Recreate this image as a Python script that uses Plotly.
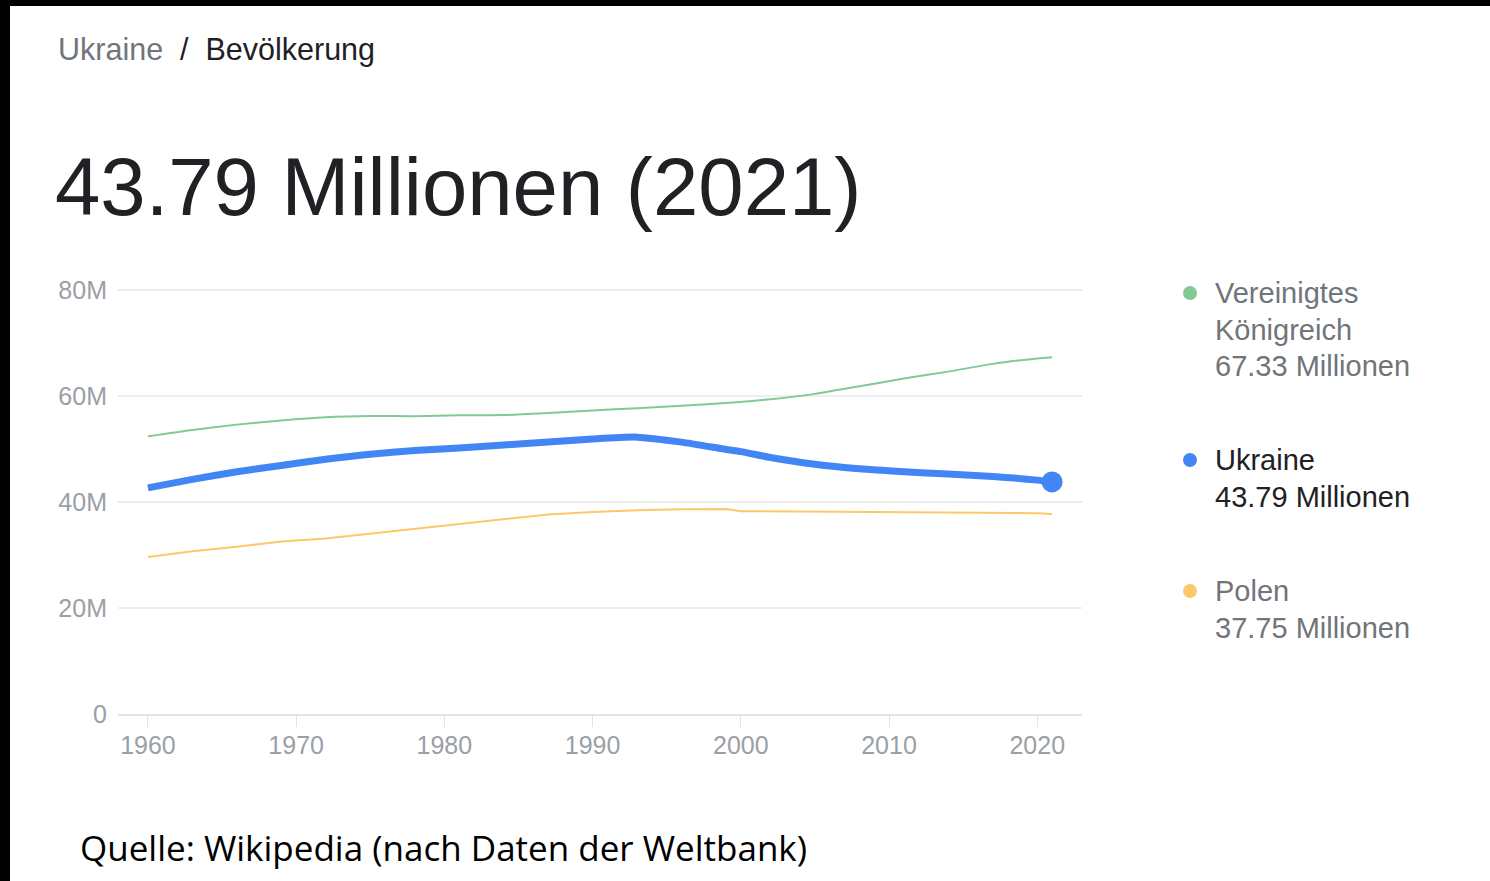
import plotly.graph_objects as go

# ---------------- data (millions) ----------------
years = [1960, 1963, 1966, 1969, 1972, 1975, 1978, 1981, 1984, 1987, 1990, 1993,
         1996, 1999, 2000, 2002, 2005, 2008, 2011, 2014, 2017, 2020, 2021]
ukraine = [42.66, 44.27, 45.70, 46.90, 48.07, 49.02, 49.70, 50.20, 50.75, 51.30, 51.89, 52.24,
           51.30, 49.92, 49.50, 48.40, 47.11, 46.26, 45.71, 45.27, 44.83, 44.13, 43.79]
uk = [52.40, 53.60, 54.60, 55.40, 56.00, 56.23, 56.18, 56.36, 56.41, 56.80, 57.25, 57.71,
      58.16, 58.68, 58.89, 59.37, 60.40, 61.82, 63.29, 64.60, 66.06, 67.08, 67.33]
poland = [29.64, 30.69, 31.55, 32.55, 33.11, 34.02, 35.01, 35.90, 36.75, 37.66, 38.11, 38.46,
          38.62, 38.66, 38.26, 38.23, 38.17, 38.13, 38.06, 38.01, 37.97, 37.90, 37.75]

ytick_vals = [0, 20, 40, 60, 80]
ytick_text = ["0", "20M", "40M", "60M", "80M"]
xtick_vals = [1960, 1970, 1980, 1990, 2000, 2010, 2020]

W, H = 1490, 881
FONT = "Liberation Sans, Arial, sans-serif"
GREEN, BLUE, YELLOW = "#81c995", "#4285f4", "#fbc86a"
DARK, GRAY, AXGRAY = "#202124", "#70757a", "#9aa0a6"

def px(x):
    return x / W

def py(y):
    return 1 - y / H

fig = go.Figure()
fig.add_trace(go.Scatter(x=years, y=uk, mode="lines", line=dict(color=GREEN, width=2, shape="spline", smoothing=0.6),
                         hoverinfo="skip", showlegend=False))
fig.add_trace(go.Scatter(x=years, y=poland, mode="lines", line=dict(color=YELLOW, width=2),
                         hoverinfo="skip", showlegend=False))
fig.add_trace(go.Scatter(x=years, y=ukraine, mode="lines", line=dict(color=BLUE, width=7, shape="spline", smoothing=0.6),
                         hoverinfo="skip", showlegend=False))
fig.add_trace(go.Scatter(x=[years[-1]], y=[ukraine[-1]], mode="markers",
                         marker=dict(color=BLUE, size=21), hoverinfo="skip", showlegend=False))

fig.update_layout(
    width=W, height=H,
    margin=dict(l=0, r=0, t=0, b=0, pad=0),
    paper_bgcolor="white", plot_bgcolor="white",
    font=dict(family=FONT),
    xaxis=dict(domain=[px(118), px(1082)], range=[1957.98, 2023.02],
               tickvals=xtick_vals, ticks="outside", ticklen=11, tickcolor="#e3e3e3",
               showgrid=False, zeroline=False, showline=True, linecolor="#e3e3e3",
               linewidth=1.5, tickfont=dict(size=25, color=AXGRAY), automargin=False,
               ticklabelstandoff=-3),
    yaxis=dict(domain=[py(714), py(287)], range=[0, 80.566],
               tickvals=ytick_vals, ticktext=ytick_text, showgrid=True,
               gridcolor="#eeeeee", gridwidth=1.5, zeroline=False, showline=False,
               ticks="", tickfont=dict(size=25, color=AXGRAY), automargin=False,
               ticklabelstandoff=10),
)

# black frame edges (top and left)
fig.add_shape(type="rect", xref="paper", yref="paper", x0=0, x1=px(10), y0=0, y1=1,
              fillcolor="black", line=dict(width=0), layer="above")
fig.add_shape(type="rect", xref="paper", yref="paper", x0=0, x1=1, y0=py(6), y1=1,
              fillcolor="black", line=dict(width=0), layer="above")

# breadcrumb
fig.add_annotation(xref="paper", yref="paper", x=px(56), y=py(49), xanchor="left", yanchor="middle",
                   showarrow=False,
                   text=f"<span style='color:{GRAY}'>Ukraine</span>  /  Bevölkerung",
                   font=dict(size=30.5, color=DARK, family=FONT))
# big headline
fig.add_annotation(xref="paper", yref="paper", x=px(53), y=py(186), xanchor="left", yanchor="middle",
                   showarrow=False, text=f"{ukraine[-1]:.2f} Millionen ({years[-1]})",
                   font=dict(size=81.5, color=DARK, family=FONT))

# legend
legend_items = [
    (["Vereinigtes", "Königreich", f"{uk[-1]:.2f} Millionen"], GREEN, GRAY, 293),
    (["Ukraine", f"{ukraine[-1]:.2f} Millionen"], BLUE, DARK, 460),
    (["Polen", f"{poland[-1]:.2f} Millionen"], YELLOW, GRAY, 591),
]
for lines, dotc, txtc, y0 in legend_items:
    fig.add_shape(type="circle", xref="paper", yref="paper", xsizemode="pixel", ysizemode="pixel",
                  xanchor=px(1190), yanchor=py(y0), x0=-7, x1=7, y0=-7, y1=7,
                  fillcolor=dotc, line=dict(width=0))
    for i, t in enumerate(lines):
        fig.add_annotation(xref="paper", yref="paper", x=px(1213), y=py(y0 + 36.5 * i),
                           xanchor="left", yanchor="middle", showarrow=False, text=t,
                           font=dict(size=29, color=txtc, family=FONT))

# source
fig.add_annotation(xref="paper", yref="paper", x=px(78), y=py(847), xanchor="left", yanchor="middle",
                   showarrow=False, text="Quelle: Wikipedia (nach Daten der Weltbank)",
                   font=dict(size=35, color="black", family="Open Sans, sans-serif"))

fig.write_html("out.html", config={"displayModeBar": False},
               post_script="document.body.style.margin='0';document.body.style.overflow='hidden';")
